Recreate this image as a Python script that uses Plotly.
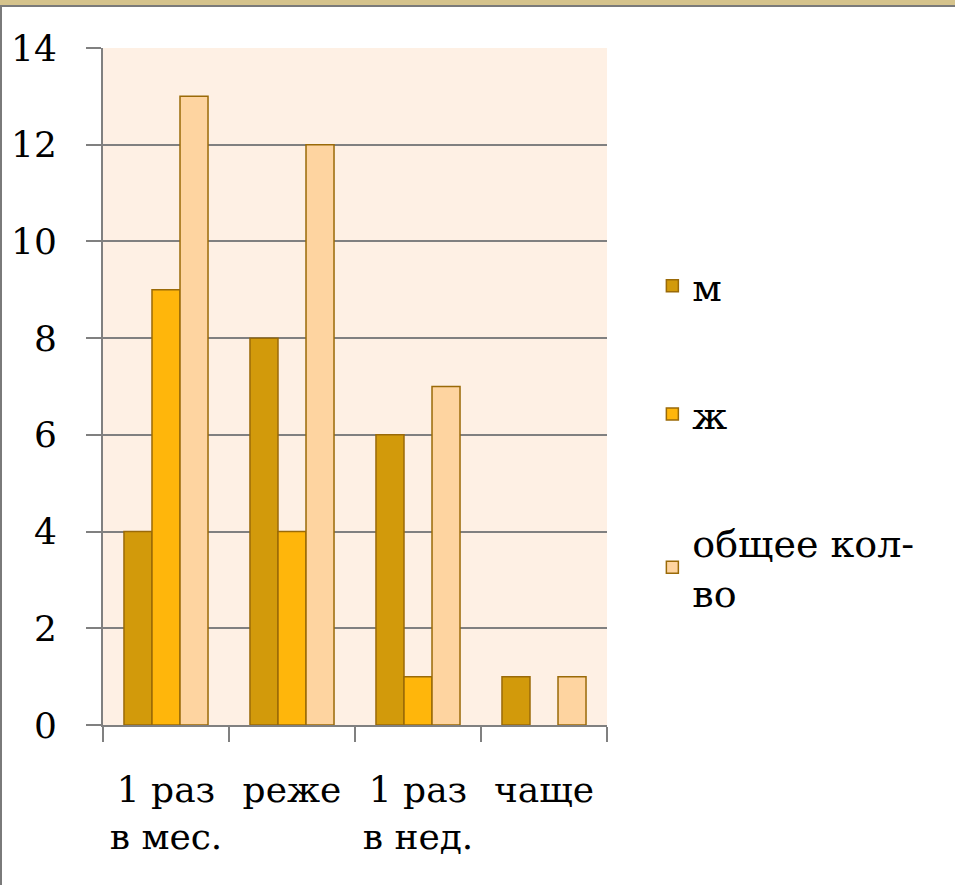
import plotly.graph_objects as go

categories = ["1 раз<br>в мес.", "реже", "1 раз<br>в нед.", "чаще"]
m_values = [4, 8, 6, 1]
zh_values = [9, 4, 1, None]
total_values = [13, 12, 7, 1]
y_ticks = [0, 2, 4, 6, 8, 10, 12, 14]

FONT = "DejaVu Serif, Liberation Serif, serif"
outline = "#9A6A08"
FS = 36

fig = go.Figure()
fig.add_bar(x=categories, y=m_values, name="м", legendgroup="a",
            marker=dict(color="#D29A0B", line=dict(color=outline, width=1.5)))
fig.add_bar(x=categories, y=zh_values, name="ж", legendgroup="b",
            marker=dict(color="#FFB60B", line=dict(color=outline, width=1.5)))
fig.add_bar(x=categories, y=total_values, name="общее кол-<br>во", legendgroup="c",
            marker=dict(color="#FED4A0", line=dict(color=outline, width=1.5)))

fig.update_layout(
    width=955, height=885,
    margin=dict(l=103, r=348, t=48, b=160),
    paper_bgcolor="white", plot_bgcolor="#FEF0E4",
    barmode="group", bargap=0.333, bargroupgap=0,
    font=dict(family=FONT, size=FS, color="black"),
    showlegend=True,
    legend=dict(x=1.09, xanchor="left", y=0.695, yanchor="top",
                traceorder="grouped", tracegroupgap=76,
                font=dict(family=FONT, size=38), itemwidth=30,
                bgcolor="rgba(0,0,0,0)"),
    shapes=[
        dict(type="rect", xref="paper", yref="paper", x0=-0.3, x1=1.8,
             y0=1 + 42 / 677, y1=1 + 48 / 677, fillcolor="#D5C38C",
             line=dict(width=0), layer="above"),
        dict(type="line", xref="paper", yref="paper", x0=-0.3, x1=1.8,
             y0=1 + 42 / 677, y1=1 + 42 / 677, line=dict(color="#7A7A7A", width=2)),
        dict(type="line", xref="paper", yref="paper", x0=-102 / 504, x1=-102 / 504,
             y0=-0.3, y1=1 + 42 / 677, line=dict(color="#7A7A7A", width=2)),
    ],
)
fig.update_xaxes(
    showline=True, linecolor="#808080", linewidth=2,
    ticks="outside", ticklen=15, tickcolor="#808080", tickwidth=2,
    tickson="boundaries", ticklabelstandoff=32,
    tickfont=dict(family=FONT, size=FS), showgrid=False,
)
fig.update_yaxes(
    range=[0, 14], tickvals=y_ticks,
    showline=True, linecolor="#808080", linewidth=2,
    ticks="outside", ticklen=15, tickcolor="#808080", tickwidth=2,
    showgrid=True, gridcolor="#808080", gridwidth=2,
    zeroline=False, ticklabelstandoff=22,
    tickfont=dict(family=FONT, size=FS),
)

fig.write_html("out.html", config={"displayModeBar": False},
               post_script="document.body.style.margin='0';")
